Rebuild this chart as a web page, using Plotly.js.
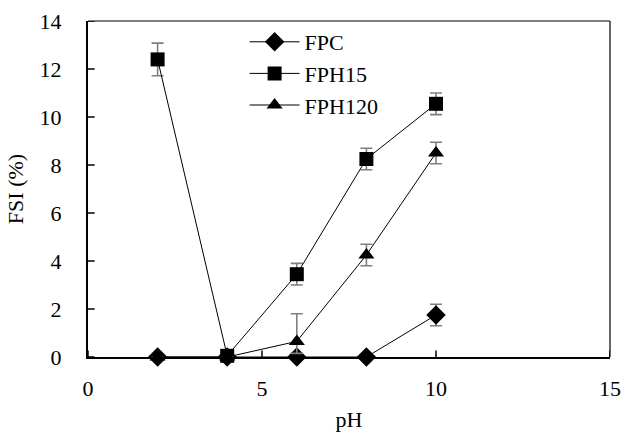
<!DOCTYPE html>
<html>
<head>
<meta charset="utf-8">
<script src="https://cdn.plot.ly/plotly-3.0.1.min.js"></script>
<style>html,body{margin:0;padding:0;background:#fff;}#chart{width:623px;height:432px;}</style>
</head>
<body>
<div id="chart"></div>
<script>
const pH = [2, 4, 6, 8, 10];
const fpc = [0, 0, 0, 0, 1.75];
const fpcErr = [0, 0, 0, 0, 0.45];
const fph15 = [12.4, 0.05, 3.45, 8.25, 10.55];
const fph15Err = [0.68, 0, 0.45, 0.45, 0.45];
const fph120 = [0, 0, 0.65, 4.25, 8.5];
const fph120ErrPlus = [0, 0, 1.15, 0.45, 0.45];
const fph120ErrMinus = [0, 0, 0.5, 0.45, 0.45];
const xTicks = [0, 5, 10, 15];
const yTicks = [0, 2, 4, 6, 8, 10, 12, 14];
const xMinorStep = 1;
const yMinorStep = 0.4;

const font = {family: '"Liberation Serif", "Times New Roman", Times, serif', size: 22, color: '#000'};
const errStyle = {color: '#7f7f7f', thickness: 1.6, width: 6};

const xMinor = [], yMinor = [];
for (let i = 1; i * xMinorStep < 15 - 1e-9; i++) { const v = +(i * xMinorStep).toFixed(3); if (!xTicks.includes(v)) xMinor.push(v); }
for (let i = 1; i * yMinorStep < 14 - 1e-9; i++) { const v = +(i * yMinorStep).toFixed(3); if (!yTicks.some(t => Math.abs(t - v) < 1e-6)) yMinor.push(v); }

// axis tick marks drawn as error-bar whiskers anchored on the axes
function xTickTrace(xs, up, down, w) {
  return {x: xs, y: xs.map(() => 0), type: 'scatter', mode: 'markers', showlegend: false, hoverinfo: 'skip', cliponaxis: false,
          marker: {size: 1, color: 'rgba(0,0,0,0)'},
          error_y: {type: 'data', symmetric: false, array: xs.map(() => up), arrayminus: xs.map(() => down),
                    color: '#000', thickness: w, width: 0, visible: true}};
}
function yTickTrace(ys, right, left, w) {
  return {x: ys.map(() => 0), y: ys, type: 'scatter', mode: 'markers', showlegend: false, hoverinfo: 'skip', cliponaxis: false,
          marker: {size: 1, color: 'rgba(0,0,0,0)'},
          error_x: {type: 'data', symmetric: false, array: ys.map(() => right), arrayminus: ys.map(() => left),
                    color: '#000', thickness: w, width: 0, visible: true}};
}

function tr(name, y, sym, ep, em) {
  return {
    x: pH, y: y, name: name, type: 'scatter', mode: 'lines+markers',
    line: {color: '#000', width: 1},
    marker: {symbol: sym, size: sym === 'diamond' ? 15 : 14, color: '#000'},
    error_y: Object.assign({type: 'data', array: ep, arrayminus: em, symmetric: false, visible: true}, errStyle),
    cliponaxis: false
  };
}
const data = [
  xTickTrace(xTicks, 0.27, 0.27, 1.5),
  xTickTrace(xMinor, 0, 0.2, 1.2),
  yTickTrace(yTicks, 0.19, 0.19, 1.5),
  yTickTrace(yMinor, 0, 0.14, 1.2),
  tr('FPC', fpc, 'diamond', fpcErr, fpcErr),
  tr('FPH15', fph15, 'square', fph15Err, fph15Err),
  tr('FPH120', fph120, 'triangle-up', fph120ErrPlus, fph120ErrMinus)
];

const layout = {
  width: 623, height: 432,
  margin: {l: 88, r: 13, t: 21, b: 75},
  paper_bgcolor: '#fff', plot_bgcolor: '#fff',
  font: font,
  showlegend: true,
  legend: {x: 0.3, y: 1.0, xanchor: 'left', yanchor: 'top', bgcolor: 'rgba(0,0,0,0)',
           font: font, tracegroupgap: 0, itemwidth: 50},
  xaxis: {
    range: [0, 15], tickmode: 'array', tickvals: xTicks, ticktext: xTicks.map(String),
    showgrid: false, zeroline: false, showline: true, linewidth: 2, linecolor: '#000',
    ticks: '', ticklabelstandoff: 11,
    title: {text: 'pH', font: font, standoff: 16},
    fixedrange: true
  },
  yaxis: {
    range: [0, 14], tickmode: 'array', tickvals: yTicks, ticktext: yTicks.map(String),
    showgrid: false, zeroline: false, showline: true, linewidth: 2, linecolor: '#000',
    ticks: '', ticklabelstandoff: 20,
    title: {text: 'FSI (%)', font: font, standoff: 10},
    fixedrange: true
  },
  shapes: [
    {type: 'line', xref: 'paper', yref: 'paper', x0: 0, x1: 1, y0: 1, y1: 1, line: {color: '#000', width: 1.2}},
    {type: 'line', xref: 'paper', yref: 'paper', x0: 1, x1: 1, y0: 0, y1: 1, line: {color: '#000', width: 1.2}}
  ]
};

Plotly.newPlot('chart', data, layout, {displayModeBar: false, staticPlot: true});
</script>
</body>
</html>
